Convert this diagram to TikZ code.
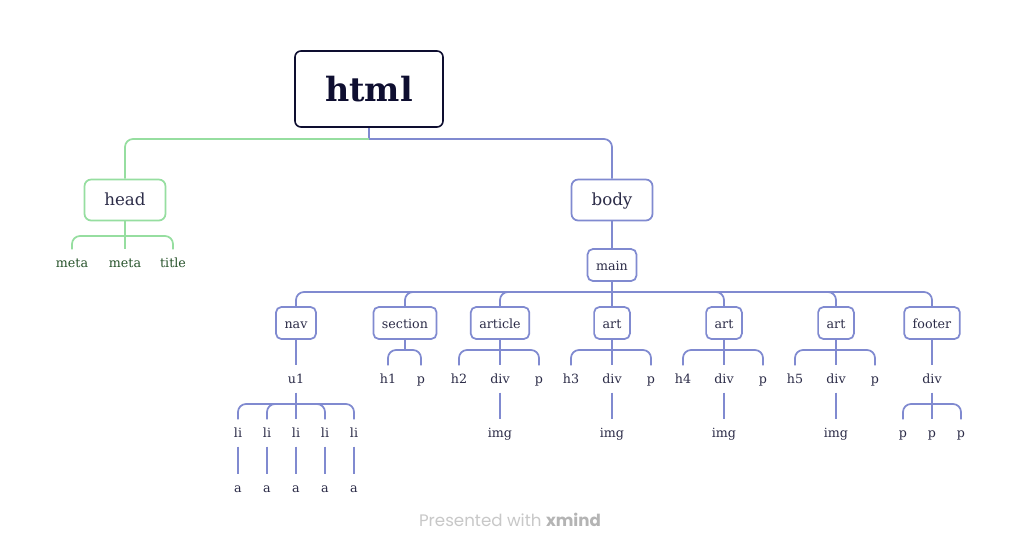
\documentclass[tikz,border=0pt]{standalone}
\usepackage{fontspec}
\setmainfont{DejaVu Serif}
\newfontfamily\wmfont{Poppins}
\usepackage{tikz}
\usetikzlibrary{positioning}
\definecolor{edgeblue}{RGB}{128,138,208}
\definecolor{edgegreen}{RGB}{150,222,160}
\definecolor{navy}{RGB}{14,14,48}
\definecolor{ink}{RGB}{44,44,72}
\definecolor{leafgreen}{RGB}{40,84,44}
\definecolor{wmgray}{RGB}{200,200,200}
\definecolor{wmdark}{RGB}{180,180,180}

\begin{document}
\begin{tikzpicture}[x=0.75pt,y=-0.75pt,
  root/.style={draw=navy,line width=1.2pt,rounded corners=4.5pt,fill=white,minimum width=111pt,minimum height=57pt,font=\fontsize{25}{30}\selectfont\bfseries,text=navy},
  topic/.style={draw=#1,line width=1.3pt,rounded corners=5pt,minimum width=60.75pt,minimum height=30.75pt,text height=.88em,text depth=.12em,font=\fontsize{12.5}{15}\selectfont,text=ink},
  sub/.style={draw=edgeblue,line width=1.3pt,rounded corners=4pt,minimum height=24pt,inner xsep=6.4pt,text height=.88em,text depth=.12em,font=\fontsize{9.5}{11}\selectfont,text=ink},
  leaf/.style={inner sep=0pt,minimum height=20pt,text height=1.6ex,text depth=.4ex,font=\fontsize{9.5}{11}\selectfont,text=ink},
  ln/.style={edgeblue,line width=1.3pt,rounded corners=6pt}]
 \fill[white] (0,0) rectangle (1022,551);
 \useasboundingbox (0,0) rectangle (1022,551);
 % root and first level
 \node[root] (html) at (369,89) {html};
 \node[topic=edgegreen] (head) at (125,200) {head};
 \node[topic=edgeblue] (body) at (612,200) {body};
 \node[leaf,text=leafgreen] (meta1) at (72,263) {meta};
 \node[leaf,text=leafgreen] (meta2) at (125,263) {meta};
 \node[leaf,text=leafgreen] (title) at (173,263) {title};
 \node[sub] (main) at (612,265) {main};
 % children of main
 \node[sub] (nav) at (296,323) {nav};
 \node[sub] (section) at (405,323) {section};
 \node[sub] (article) at (500,323) {article};
 \node[sub] (art1) at (612,323) {art};
 \node[sub] (art2) at (724,323) {art};
 \node[sub] (art3) at (836,323) {art};
 \node[sub] (footer) at (932,323) {footer};
 % nav list
 \node[leaf] (u1) at (296,379) {u1};
 \foreach \i/\x in {1/238,2/267,3/296,4/325,5/354} {
   \node[leaf] (li\i) at (\x,433) {li};
   \node[leaf] (a\i) at (\x,488) {a};
 }
 \node[leaf] (h1) at (388,379) {h1};
 \node[leaf] (p1) at (421,379) {p};
 \foreach \k/\x in {2/500,3/612,4/724,5/836} {
   \node[leaf] (h\k) at (\x-41,379) {h\k};
   \node[leaf] (div\k) at (\x,379) {div};
   \node[leaf] (p\k) at (\x+39,379) {p};
   \node[leaf] (img\k) at (\x,433) {img};
 }
 \node[leaf] (div6) at (932,379) {div};
 \node[leaf] (p6) at (903,433) {p};
 \node[leaf] (p7) at (932,433) {p};
 \node[leaf] (p8) at (961,433) {p};
 % joints
 \coordinate (jhtml) at (369,139);
 \coordinate (jhead) at (125,236);
 \coordinate (jmain) at (612,292);
 \coordinate (ju1) at (296,404);
 \coordinate (jsec) at (405,350);
 \coordinate (jdiv) at (932,404);
 % connectors
 \draw[ln] (html) -- (jhtml);
 \draw[ln,edgegreen] (jhtml) -| (head);
 \draw[ln] (jhtml) -| (body);
 \draw[ln,edgegreen] (head) -- (jhead);
 \foreach \c in {meta1,meta2,title} \draw[ln,edgegreen] (jhead) -| (\c);
 \draw[ln] (body) -- (main);
 \draw[ln] (main) -- (jmain);
 \foreach \c in {nav,section,article,art1,art2,art3,footer} \draw[ln] (jmain) -| (\c);
 \draw[ln] (nav) -- (u1);
 \draw[ln] (u1) -- (ju1);
 \foreach \i in {1,...,5} {
   \draw[ln] (ju1) -| (li\i);
   \draw[ln] (li\i) -- (a\i);
 }
 \draw[ln] (section) -- (jsec);
 \foreach \c in {h1,p1} \draw[ln] (jsec) -| (\c);
 \foreach \pn/\k/\x in {article/2/500,art1/3/612,art2/4/724,art3/5/836} {
   \coordinate (j\k) at (\x,350);
   \draw[ln] (\pn) -- (j\k);
   \foreach \c in {h\k,div\k,p\k} \draw[ln] (j\k) -| (\c);
   \draw[ln] (div\k) -- (img\k);
 }
 \draw[ln] (footer) -- (div6);
 \draw[ln] (div6) -- (jdiv);
 \foreach \c in {p6,p7,p8} \draw[ln] (jdiv) -| (\c);
 \node[font=\wmfont\fontsize{12.5}{15}\selectfont,text=wmgray] (wm) at (510,520) {Presented with \textcolor{wmdark}{\textbf{xmind}}};
\end{tikzpicture}
\end{document}
